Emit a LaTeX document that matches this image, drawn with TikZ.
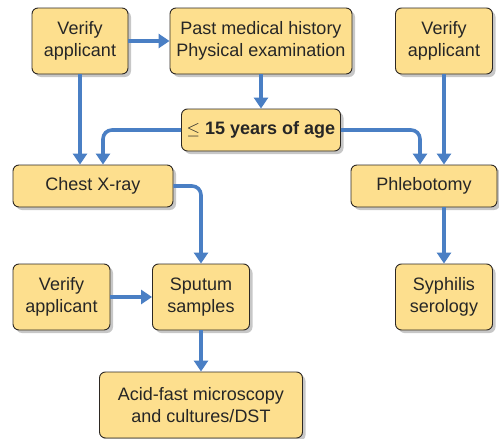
\documentclass[tikz,border=0pt]{standalone}
\usepackage{fontspec}
\setmainfont{Liberation Sans}
\usetikzlibrary{arrows.meta,positioning,shadows}
\definecolor{boxfill}{RGB}{253,223,142}
\definecolor{boxline}{RGB}{45,40,35}
\definecolor{flowblue}{RGB}{74,127,196}
\tikzset{
  >=Triangle,
  box/.style={rectangle, draw=boxline, line width=0.9pt, fill=boxfill, rounded corners=6pt,
    align=center, inner sep=2pt, text=black!85, font=\fontsize{18}{22}\selectfont,
    drop shadow={shadow xshift=3pt, shadow yshift=-3pt, opacity=0.22, fill=black}},
  flow/.style={-{Triangle[width=14pt,length=11pt]}, line width=3.6pt, draw=flowblue, rounded corners=9pt}
}

\begin{document}
\begin{tikzpicture}[x=1pt, y=-1pt,
    % box sizes for this figure
    tall box/.style={box, minimum height=66pt},
    flat box/.style={box, minimum height=42pt}
]
\useasboundingbox (0,0) rectangle (499,439);

% --- Top row ---
\node[tall box, minimum width=96pt] (verifyA) at (80, 41) {Verify\\applicant};
\node[tall box, minimum width=182pt] (history) at (261, 41) {Past medical history\\Physical examination};
\node[tall box, minimum width=97pt] (verifyB) at (444, 41) {Verify\\applicant};

% --- Age check ---
\node[flat box, minimum width=159pt] (age) at (261, 130) {$\leq$ \textbf{15 years of age}};

% --- Middle row ---
\node[flat box, minimum width=160pt] (xray) at (93, 186) {Chest X-ray};
\node[flat box, minimum width=146pt] (phleb) at (424, 186) {Phlebotomy};

% --- Lower rows ---
\node[tall box, minimum width=97pt] (verifyC) at (61.5, 297) {Verify\\applicant};
\node[tall box, minimum width=97pt] (sputum) at (201, 297) {Sputum\\samples};
\node[tall box, minimum width=97pt] (syph) at (444, 297) {Syphilis\\serology};
\node[tall box, minimum width=203pt] (afb) at (201, 405) {Acid-fast microscopy\\and cultures/DST};

% Connections
\draw[flow] (verifyA) -- (history);
\draw[flow] (verifyA) -- (verifyA |- xray.north);
\draw[flow] (history) -- (age);
\draw[flow] (age.west) -| ([xshift=10pt]xray.north);
\draw[flow] (age.east) -| ([xshift=-4pt]phleb.north);
\draw[flow] (verifyB) -- (verifyB |- phleb.north);
\draw[flow] (xray.east) -| (sputum.north);
\draw[flow] (verifyC) -- (sputum);
\draw[flow] (sputum) -- (afb);
\draw[flow] (phleb.south -| syph) -- (syph);

\end{tikzpicture}
\end{document}
